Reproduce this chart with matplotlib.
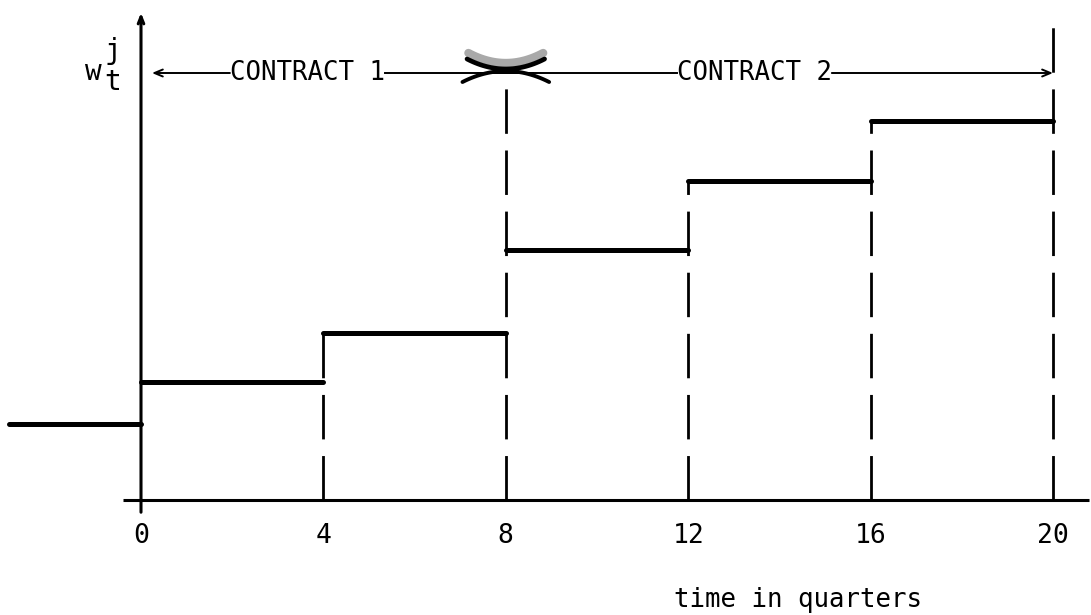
import numpy as np
import matplotlib
matplotlib.use("Agg")
import matplotlib.pyplot as plt

# ---- data ----
quarters = [0, 4, 8, 12, 16, 20]
tick_labels = ["0", "4", "8", "12", "16", "20"]
initial_wage = 76
wage_levels = [118, 167, 250, 319, 379]
contract_labels = ["CONTRACT 1", "CONTRACT 2"]
contract_bounds = [(0, 8), (8, 20)]
xlabel = "time in quarters"

plt.rcParams['lines.scale_dashes'] = False
FONT = ['DejaVu Sans Mono', 'DejaVu Sans']

fig = plt.figure(figsize=(10.91, 6.15), dpi=100)
ax = fig.add_axes([0, 0, 1, 1])
x0px, scale = 141.0, 45.6
ax.set_xlim(-x0px / scale, (1091 - x0px) / scale)
ax.set_ylim(-115, 500)
ax.axis('off')

K = 'black'
arrow_y = 427

# axes lines
ax.plot([-0.4, 20.8], [0, 0], color=K, lw=2.2, solid_capstyle='butt')
ax.annotate('', xy=(0, 490), xytext=(0, -15),
            arrowprops=dict(arrowstyle='->,head_length=0.5,head_width=0.2', lw=2.2, color=K))

# initial level
ax.plot([-2.9, 0], [initial_wage, initial_wage], color=K, lw=3.6, solid_capstyle='round')

# steps
for i, lvl in enumerate(wage_levels):
    ax.plot([quarters[i], quarters[i + 1]], [lvl, lvl], color=K, lw=3.6, solid_capstyle='round')

# dashed verticals
dash = (0, (32, 12))
for i in range(1, len(quarters) - 1):
    top = wage_levels[i]
    if quarters[i] == 8:
        top = arrow_y
    ax.plot([quarters[i], quarters[i]], [0, top], color=K, lw=2.0, linestyle=dash)
ax.plot([quarters[-1], quarters[-1]], [0, 485], color=K, lw=2.0, linestyle=dash)

# contract arrows and labels
half = 1.72
for (a, b), lab in zip(contract_bounds, contract_labels):
    c = (a + b) / 2 - 0.35 if a == 0 else (a + b) / 2 - 0.55
    ax.text(c, arrow_y, lab, ha='center', va='center', fontsize=18.5, family=FONT)
    if a == 0:
        ax.annotate('', xy=(a + 0.24, arrow_y), xytext=(c - half + 0.02, arrow_y),
                    arrowprops=dict(arrowstyle='->,head_length=0.6,head_width=0.25', lw=1.4,
                                    color=K, shrinkA=0, shrinkB=0))
        ax.plot([c + half - 0.02, b + 0.6], [arrow_y, arrow_y], color=K, lw=1.4)
    else:
        ax.plot([a - 0.6, c - half + 0.02], [arrow_y, arrow_y], color=K, lw=1.4)
        ax.annotate('', xy=(b, arrow_y), xytext=(c + half - 0.02, arrow_y),
                    arrowprops=dict(arrowstyle='->,head_length=0.6,head_width=0.25', lw=1.4,
                                    color=K, shrinkA=0, shrinkB=0))

# hand-drawn cross mark at the contract boundary
t = np.linspace(-1, 1, 30)
cx = quarters[2]
ax.plot(cx + 0.82 * t, 437 + 10 * t ** 2, color='#9a9a9a', lw=6, alpha=0.85, solid_capstyle='round')
ax.plot(cx + 0.85 * t, 431 + 10 * t ** 2, color=K, lw=3.4, solid_capstyle='round')
ax.plot(cx + 0.95 * t, 429 - 11 * t ** 2, color=K, lw=2.8, solid_capstyle='round')

# y label w_t^j
ax.text(-1.05, 428, 'w', fontsize=20, family=FONT, ha='center', va='center')
ax.text(-0.62, 449, 'j', fontsize=20, family=FONT, ha='center', va='center')
ax.text(-0.62, 418, 't', fontsize=20, family=FONT, ha='center', va='center')

# tick labels
for q, lab in zip(quarters, tick_labels):
    ax.text(q, -36, lab, ha='center', va='center', fontsize=19, family=FONT)

ax.text(14.4, -100, xlabel, ha='center', va='center', fontsize=18.5, family=FONT)

fig.savefig('out.png', dpi=100)
